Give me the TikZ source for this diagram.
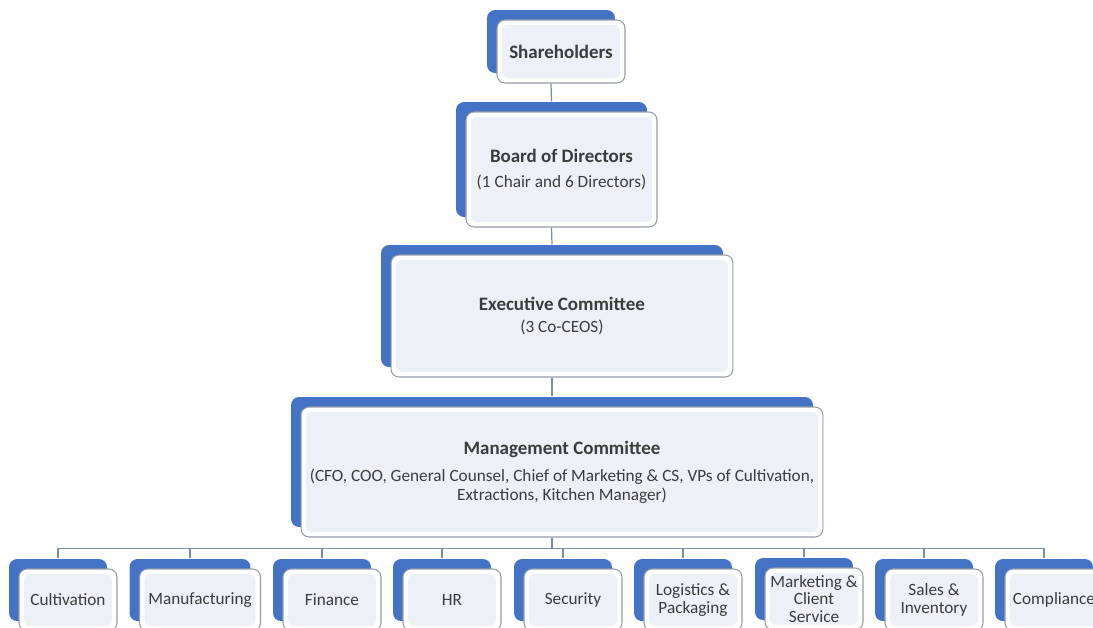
\documentclass[tikz,border=0pt]{standalone}
\usepackage{fontspec}
\setmainfont{Carlito}
\usetikzlibrary{shadows}
\definecolor{orgblue}{RGB}{68,114,196}
\definecolor{boxline}{RGB}{150,156,166}
\definecolor{boxinner}{RGB}{237,240,247}
\definecolor{linkgray}{RGB}{125,140,165}
\definecolor{textgray}{RGB}{60,60,60}
\newcommand{\orghead}[1]{{\fontsize{10.8}{12}\selectfont\bfseries #1}}

\begin{document}
\begin{tikzpicture}[x=0.02cm,y=-0.02cm,
    orgbox/.style={draw=boxline, line width=0.6pt, fill=white, rounded corners=0.16cm,
      inner sep=2pt, align=center, text=textgray, font=\fontsize{9.8}{10.6}\selectfont,
      general shadow={fill=orgblue, draw=none, shadow xshift=-0.2cm, shadow yshift=0.2cm},
      path picture={\fill[boxinner, rounded corners=0.12cm]
        ([shift={(0.1cm,0.1cm)}]path picture bounding box.south west) rectangle
        ([shift={(-0.1cm,-0.1cm)}]path picture bounding box.north east);}},
    unitbox/.style={orgbox, minimum width=1.96cm, minimum height=1.24cm,
      font=\fontsize{9.8}{9.9}\selectfont},
    link/.style={draw=linkgray, line width=0.7pt}]
  \clip (0,0) rectangle (1093,627);
  % shareholders
  \node[orgbox, minimum width=2.56cm, minimum height=1.26cm] (share) at (561,51.5) {\orghead{Shareholders}};
  % board of directors
  \node[orgbox, minimum width=3.82cm, minimum height=2.3cm] (board) at (561.5,169.5)
    {\orghead{Board of Directors}\\[4pt](1 Chair and 6 Directors)};
  % executive committee
  \node[orgbox, minimum width=6.84cm, minimum height=2.44cm] (exec) at (562,316)
    {\orghead{Executive Committee}\\[2pt](3 Co-CEOS)};
  % management committee
  \node[orgbox, minimum width=10.44cm, minimum height=2.6cm] (mgmt) at (562,472)
    {\orghead{Management Committee}\\[5pt](CFO, COO, General Counsel, Chief of Marketing \& CS, VPs of Cultivation,\\Extractions, Kitchen Manager)};
  % departments
  \node[unitbox] (cult) at (68,600) {Cultivation};
  \node[unitbox, minimum width=2.42cm] (manu) at (200,600) {Manufacturing};
  \node[unitbox] (fin) at (332,600) {Finance};
  \node[unitbox] (hr) at (452,600) {HR};
  \node[unitbox] (sec) at (573,600) {Security};
  \node[unitbox] (logi) at (693,600) {Logistics \&\\Packaging};
  \node[unitbox] (mark) at (814,599) {Marketing \&\\Client\\Service};
  \node[unitbox] (sales) at (934,600) {Sales \&\\Inventory};
  \node[unitbox] (comp) at (1054,600) {Compliance};
  % chain of command
  \draw[link] ([xshift=-0.2cm]share.south) -- ([xshift=-0.2cm,yshift=0.2cm]board.north);
  \draw[link] ([xshift=-0.2cm]board.south) -- ([xshift=-0.2cm,yshift=0.2cm]exec.north);
  \draw[link] ([xshift=-0.2cm]exec.south) -- ([xshift=-0.2cm,yshift=0.2cm]mgmt.north);
  \draw[link] ([xshift=-0.2cm]mgmt.south) -- ++(0,-0.22cm) coordinate (bus);
  \foreach \unit in {cult,manu,fin,hr,sec,logi,mark,sales,comp}
    \draw[link] (bus) -| ([xshift=-0.2cm,yshift=0.2cm]\unit.north);
\end{tikzpicture}
\end{document}
